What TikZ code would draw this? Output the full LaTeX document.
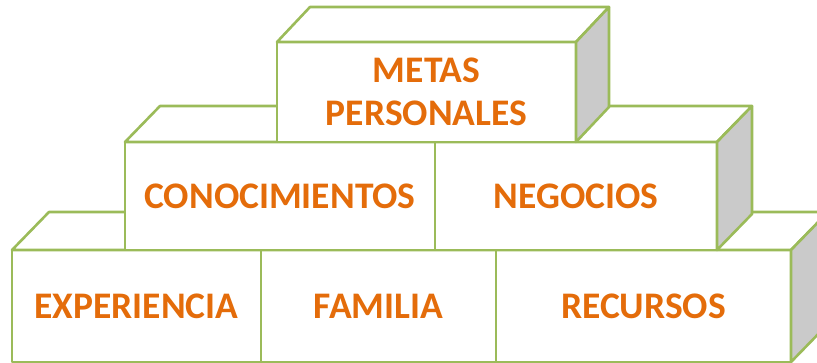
\documentclass[tikz,border=0pt]{standalone}
\usepackage{fontspec}
\setmainfont{Carlito}
\usetikzlibrary{calc}
\definecolor{lg}{HTML}{9BBB59}
\definecolor{tor}{HTML}{E46C0A}
\definecolor{sg}{HTML}{CACACA}
\begin{document}
\begin{tikzpicture}[x=1pt,y=-1pt,line join=round,
  face/.style={draw=lg,line width=2.6pt,fill=white},
  side/.style={draw=lg,line width=2.6pt,fill=sg},
  cell/.style={face,rectangle,inner sep=0pt,outer sep=0pt,anchor=north west,
    text=tor,font=\fontsize{37.5}{43}\selectfont\bfseries,align=center}]
\useasboundingbox (0,0) rectangle (817,362);
\clip (0,0) rectangle (817,362);
% bottom row
\node[cell,minimum width=249pt,minimum height=112pt] (exp) at (12,250) {EXPERIENCIA};
\node[cell,minimum width=235pt,minimum height=112pt] (fam) at (261,250) {FAMILIA};
\node[cell,minimum width=295pt,minimum height=112pt] (rec) at (496,250) {RECURSOS};
\draw[face] (exp.north west) -- ++(37,-38) -- ($(rec.north east)+(37,-38)$) -- (rec.north east) -- cycle;
\draw[side] (rec.north east) -- ++(37,-38) -- ($(rec.south east)+(37,-38)$) -- (rec.south east) -- cycle;
% middle row
\node[cell,minimum width=310pt,minimum height=108pt] (con) at (125,142) {CONOCIMIENTOS};
\node[cell,minimum width=282pt,minimum height=108pt] (neg) at (435,142) {NEGOCIOS};
\draw[face] (con.north west) -- ++(35,-36) -- ($(neg.north east)+(35,-36)$) -- (neg.north east) -- cycle;
\draw[side] (neg.north east) -- ++(35,-36) -- ($(neg.south east)+(35,-36)$) -- (neg.south east) -- cycle;
% top block
\node[cell,minimum width=299pt,minimum height=100pt] (met) at (277,42) {METAS\\PERSONALES};
\draw[face] (met.north west) -- ++(33,-35) -- ($(met.north east)+(33,-35)$) -- (met.north east) -- cycle;
\draw[side] (met.north east) -- ++(33,-35) -- ($(met.south east)+(33,-35)$) -- (met.south east) -- cycle;
\end{tikzpicture}
\end{document}
